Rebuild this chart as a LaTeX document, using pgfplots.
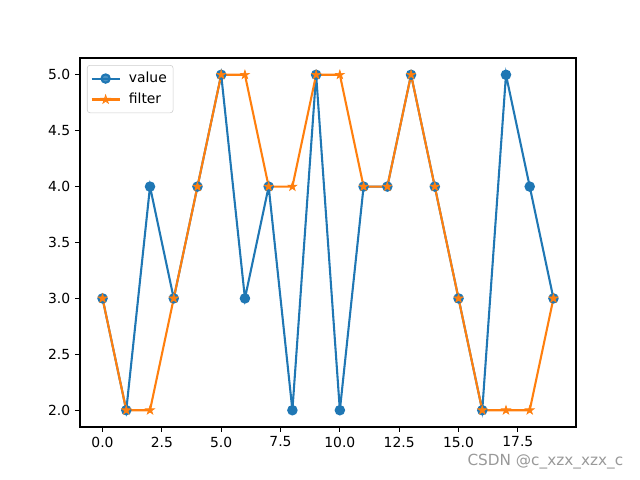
\documentclass[border=0pt]{standalone}
\usepackage{pgfplots}
\pgfplotsset{compat=1.18}
\usepackage{fontspec}
\setmainfont{DejaVu Sans}
\definecolor{cA}{HTML}{1F77B4}
\definecolor{cB}{HTML}{FF7F0E}
\pgfdeclareplotmark{fstar}{%
  \pgfpathmoveto{\pgfpointpolar{90}{\pgfplotmarksize}}%
  \pgfpathlineto{\pgfpointpolar{126}{0.382\pgfplotmarksize}}%
  \pgfpathlineto{\pgfpointpolar{162}{\pgfplotmarksize}}%
  \pgfpathlineto{\pgfpointpolar{198}{0.382\pgfplotmarksize}}%
  \pgfpathlineto{\pgfpointpolar{234}{\pgfplotmarksize}}%
  \pgfpathlineto{\pgfpointpolar{270}{0.382\pgfplotmarksize}}%
  \pgfpathlineto{\pgfpointpolar{306}{\pgfplotmarksize}}%
  \pgfpathlineto{\pgfpointpolar{342}{0.382\pgfplotmarksize}}%
  \pgfpathlineto{\pgfpointpolar{18}{\pgfplotmarksize}}%
  \pgfpathlineto{\pgfpointpolar{54}{0.382\pgfplotmarksize}}%
  \pgfpathclose
  \pgfusepathqfillstroke}
\begin{document}
\begin{tikzpicture}
\begin{axis}[
  name=ax,
  scale only axis,
  width=357.12pt, height=265.68pt,
  xmin=-0.95, xmax=19.95, ymin=1.85, ymax=5.15,
  xtick={0,2.5,...,17.5},
  ytick={2,2.5,...,5},
  xticklabel style={/pgf/number format/.cd,fixed,fixed zerofill,precision=1},
  yticklabel style={/pgf/number format/.cd,fixed,fixed zerofill,precision=1},
  /pgf/number format/assume math mode=true,
  tick label style={font=\fontsize{10}{12}\selectfont},
  tick align=outside, major tick length=3.5pt,
  tick style={black, line width=0.8pt},
  axis line style={line width=0.8pt},
  xtick pos=bottom, ytick pos=left,
  legend style={font=\fontsize{10}{12}\selectfont, draw=black!20, rounded corners=2pt, fill=white, fill opacity=0.8, text opacity=1, draw opacity=1, at={(0.014,0.981)}, anchor=north west, row sep=2pt, inner xsep=2.5pt, inner ysep=3pt},
  legend cell align=left,
  legend image code/.code={\draw[mark repeat=2,mark phase=2] plot coordinates {(0pt,0pt)(10pt,0pt)(20pt,0pt)};\path (24pt,0pt);},
]
\addplot[cA, line width=1.5pt, mark=*, mark size=3pt, mark options={solid}] coordinates {
(0,3)(1,2)(2,4)(3,3)(4,4)(5,5)(6,3)(7,4)(8,2)(9,5)(10,2)(11,4)(12,4)(13,5)(14,4)(15,3)(16,2)(17,5)(18,4)(19,3)};
\addlegendentry{value}
\addplot[cB, line width=1.5pt, mark=fstar, mark size=3.3pt, mark options={solid, fill=cB, line width=0.5pt}] coordinates {
(0,3)(1,2)(2,2)(3,3)(4,4)(5,5)(6,5)(7,4)(8,4)(9,5)(10,5)(11,4)(12,4)(13,5)(14,4)(15,3)(16,2)(17,2)(18,2)(19,3)};
\addlegendentry{filter}
\end{axis}
\node[anchor=east, text=black!40, font=\fontsize{11}{13}\selectfont] at ([xshift=37.5pt,yshift=-25pt]ax.south east) {CSDN @c\_xzx\_xzx\_c};
\useasboundingbox ([shift={(-57.6pt,-38.16pt)}]ax.south west) rectangle ([shift={(46.08pt,41.76pt)}]ax.north east);
\end{tikzpicture}
\end{document}
